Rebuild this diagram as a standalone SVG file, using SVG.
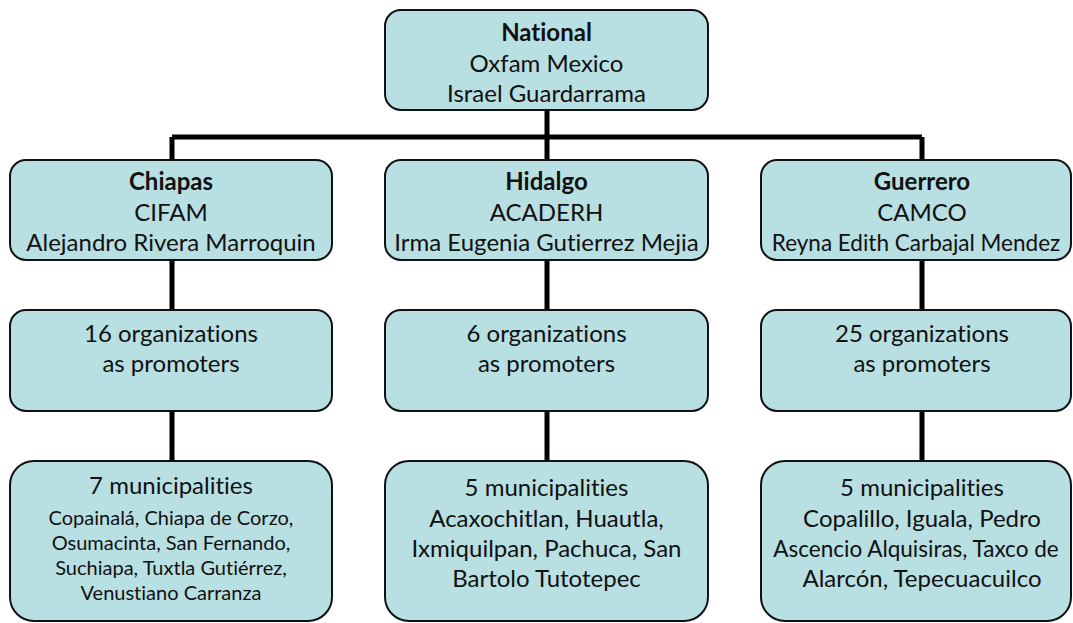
<svg xmlns="http://www.w3.org/2000/svg" width="1073" height="623" viewBox="0 0 1073 623">
<style>
.box{fill:#b8dfe2;stroke:#111;stroke-width:2}
.t{font-family:Lato,"Liberation Sans",sans-serif;font-size:24px;fill:#111;text-anchor:middle;font-variant-ligatures:none}
.s{font-size:20px}
.n{font-size:22.5px}
.b{font-weight:bold}
.c{stroke:#000;stroke-width:5;fill:none}
</style>
<rect width="1073" height="623" fill="#fff"/>
<g id="connectors">
<path class="c" d="M547 110V137M172 137H922M172 137V160M547 137V160M922 137V160"/>
<path class="c" d="M172 260V310M547 260V310M922 260V310"/>
<path class="c" d="M172 411V462M547 411V462M922 411V462"/>
</g>
<g id="national">
<rect class="box" x="385" y="10" width="323" height="100" rx="16"/>
<text class="t b" x="546.5" y="41">National</text>
<text class="t" x="546.5" y="72">Oxfam Mexico</text>
<text class="t" x="546.5" y="102">Israel Guardarrama</text>
</g>
<g id="chiapas">
<rect class="box" x="10" y="160" width="322" height="100" rx="16"/>
<text class="t b" x="171" y="190">Chiapas</text>
<text class="t" x="171" y="221">CIFAM</text>
<text class="t" x="171" y="251">Alejandro Rivera Marroquin</text>
</g>
<g id="hidalgo">
<rect class="box" x="385" y="160" width="323" height="100" rx="16"/>
<text class="t b" x="546.5" y="190">Hidalgo</text>
<text class="t" x="546.5" y="221">ACADERH</text>
<text class="t" x="546.5" y="251">Irma Eugenia Gutierrez Mejia</text>
</g>
<g id="guerrero">
<rect class="box" x="761" y="160" width="310" height="100" rx="16"/>
<text class="t b" x="922" y="190">Guerrero</text>
<text class="t" x="922" y="221">CAMCO</text>
<text class="t n" x="916" y="251">Reyna Edith Carbajal Mendez</text>
</g>
<g id="chiapas-orgs">
<rect class="box" x="10" y="310" width="322" height="101" rx="16"/>
<text class="t" x="171" y="342">16 organizations</text>
<text class="t" x="171" y="372">as promoters</text>
</g>
<g id="hidalgo-orgs">
<rect class="box" x="385" y="310" width="323" height="101" rx="16"/>
<text class="t" x="546.5" y="342">6 organizations</text>
<text class="t" x="546.5" y="372">as promoters</text>
</g>
<g id="guerrero-orgs">
<rect class="box" x="761" y="310" width="310" height="101" rx="16"/>
<text class="t" x="922" y="342">25 organizations</text>
<text class="t" x="922" y="372">as promoters</text>
</g>
<g id="chiapas-mun">
<rect class="box" x="10" y="461" width="322" height="160" rx="24"/>
<text class="t" x="171" y="494">7 municipalities</text>
<text class="t s" x="171" y="525">Copainalá, Chiapa de Corzo,</text>
<text class="t s" x="171" y="550">Osumacinta, San Fernando,</text>
<text class="t s" x="171" y="575">Suchiapa, Tuxtla Gutiérrez,</text>
<text class="t s" x="171" y="600">Venustiano Carranza</text>
</g>
<g id="hidalgo-mun">
<rect class="box" x="385" y="461" width="323" height="160" rx="24"/>
<text class="t" x="546.5" y="496">5 municipalities</text>
<text class="t" x="546.5" y="527">Acaxochitlan, Huautla,</text>
<text class="t" x="546.5" y="557">Ixmiquilpan, Pachuca, San</text>
<text class="t" x="546.5" y="587">Bartolo Tutotepec</text>
</g>
<g id="guerrero-mun">
<rect class="box" x="761" y="461" width="310" height="160" rx="24"/>
<text class="t" x="922" y="496">5 municipalities</text>
<text class="t" x="922" y="527">Copalillo, Iguala, Pedro</text>
<text class="t n" x="916" y="557">Ascencio Alquisiras, Taxco de</text>
<text class="t" x="922" y="587">Alarcón, Tepecuacuilco</text>
</g>
</svg>
